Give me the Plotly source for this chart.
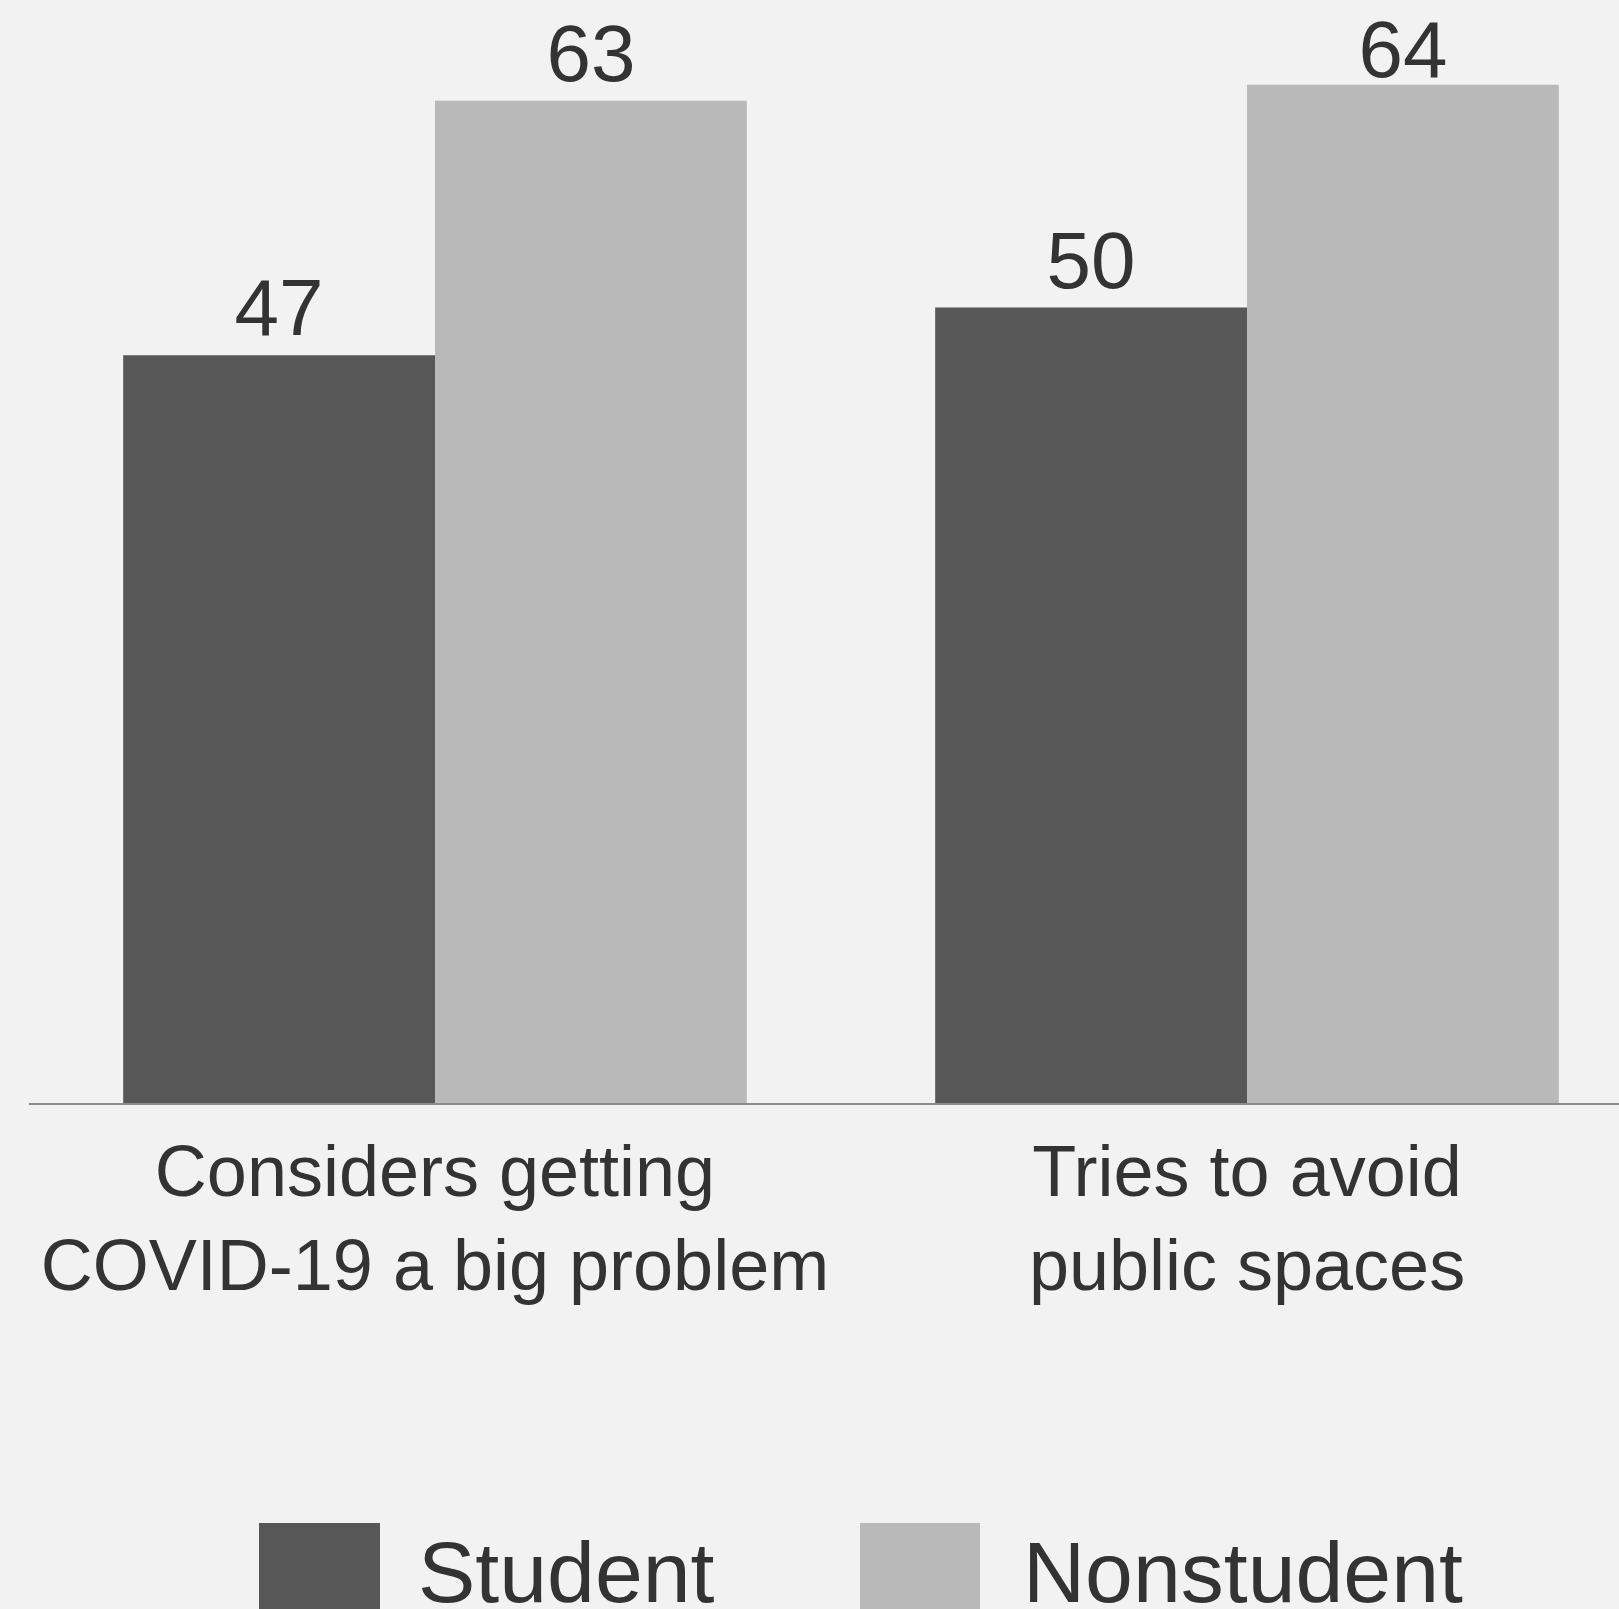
import plotly.graph_objects as go

categories = ["Considers getting<br>COVID-19 a big problem", "Tries to avoid<br>public spaces"]
student = [47, 50]
nonstudent = [63, 64]
series_names = ["Student", "Nonstudent"]
colors = ["#575757", "#b9b9b9"]

W, H = 1619, 1609
L, T, B = 29, 0, 506
plot_w = W - L
plot_h = H - T - B
PX_PER_UNIT = 15.91
Y_MAX = plot_h / PX_PER_UNIT
LABEL_ROOM = 6.1  # value units kept free above a label anchor

FONT = "Liberation Sans, Arial, sans-serif"
TXT = "#333333"

fig = go.Figure()
for name, vals, col in zip(series_names, [student, nonstudent], colors):
    fig.add_trace(go.Bar(
        x=categories, y=vals, name=name, offsetgroup=name,
        marker=dict(color=col, line=dict(width=0)), showlegend=False,
    ))
for name, vals in zip(series_names, [student, nonstudent]):
    fig.add_trace(go.Scatter(
        x=categories, y=[min(v, Y_MAX - LABEL_ROOM) for v in vals], offsetgroup=name,
        mode="text", text=[str(v) for v in vals], textposition="top center",
        textfont=dict(family=FONT, size=80, color=TXT), cliponaxis=False,
        showlegend=False, hoverinfo="skip",
    ))

fig.update_layout(
    width=W, height=H, barmode="group", bargap=0.232, bargroupgap=0,
    scattermode="group", scattergap=0.232,
    paper_bgcolor="#f2f2f2", plot_bgcolor="#f2f2f2",
    margin=dict(l=L, r=0, t=T, b=B, pad=0),
    font=dict(family=FONT, color=TXT),
)
fig.update_xaxes(
    range=[-0.5, -0.5 + plot_w / 812], showline=True, linecolor="#8a8a8a", linewidth=2,
    showgrid=False, ticks="", tickfont=dict(family=FONT, size=72, color=TXT),
    ticklabelstandoff=5,
)
fig.update_yaxes(range=[0, Y_MAX], visible=False, showgrid=False, zeroline=False)

def px_x(px):
    return (px - L) / plot_w

def px_y(py):
    return (T + plot_h - py) / plot_h

legend_boxes = [(259, 380), (860, 980)]
legend_text_x = [416, 1021]
for (x0, x1), col, name, tx in zip(legend_boxes, colors, series_names, legend_text_x):
    fig.add_shape(type="rect", xref="paper", yref="paper",
                  x0=px_x(x0), x1=px_x(x1), y0=px_y(1523), y1=px_y(1700),
                  fillcolor=col, line=dict(width=0), layer="above")
    fig.add_annotation(xref="paper", yref="paper", x=px_x(tx), y=px_y(1572),
                       xanchor="left", yanchor="middle", showarrow=False, text=name,
                       font=dict(family=FONT, size=86, color=TXT))

fig.write_html("out.html")
